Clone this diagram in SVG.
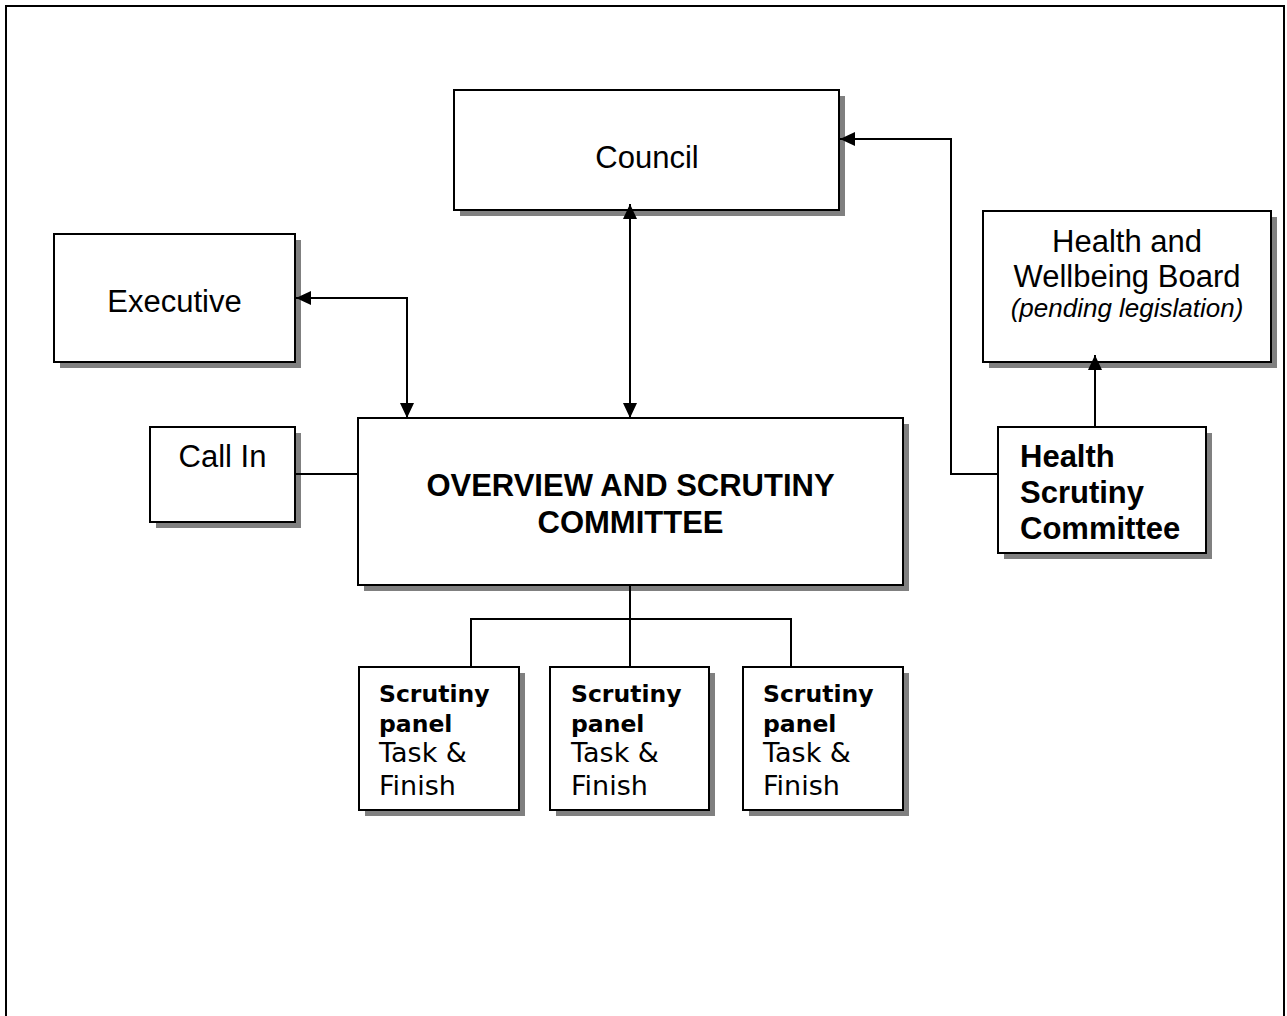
<svg xmlns="http://www.w3.org/2000/svg" width="1287" height="1016" viewBox="0 0 1287 1016">
  <style>
    .box { fill: #ffffff; stroke: #000000; stroke-width: 2; }
    .shadow { fill: #808080; stroke: none; }
    .wire { fill: none; stroke: #000000; stroke-width: 2; }
    .lbl { font-family: "Liberation Sans", Arial, sans-serif; font-size: 31px; fill: #000000; }
    .ctr { text-anchor: middle; }
    .b { font-weight: bold; }
    .it { font-style: italic; font-size: 26px; }
    .pb { font-family: "DejaVu Sans", Verdana, sans-serif; font-size: 23.5px; font-weight: bold; fill: #000000; }
    .pr { font-family: "DejaVu Sans", Verdana, sans-serif; font-size: 27px; fill: #000000; }
  </style>
  <defs>
    <marker id="arrow" viewBox="0 0 15 14" refX="15" refY="7" markerWidth="15" markerHeight="14" markerUnits="userSpaceOnUse" orient="auto-start-reverse">
      <path d="M0,0 L15,7 L0,14 z" fill="#000000"/>
    </marker>
  </defs>

  <rect width="1287" height="1016" fill="#ffffff"/>

  <!-- page frame, open at the bottom -->
  <path d="M6,1016 V6 H1284 V1016" fill="none" stroke="#000000" stroke-width="2"/>

  <g id="council">
    <rect class="shadow" x="460" y="96" width="385" height="120"/>
    <rect class="box" x="454" y="90" width="385" height="120"/>
    <text class="lbl ctr" x="647" y="168">Council</text>
  </g>

  <g id="executive">
    <rect class="shadow" x="60" y="240" width="241" height="128"/>
    <rect class="box" x="54" y="234" width="241" height="128"/>
    <text class="lbl ctr" x="174.5" y="312">Executive</text>
  </g>

  <g id="health-wellbeing-board">
    <rect class="shadow" x="989" y="217" width="288" height="151"/>
    <rect class="box" x="983" y="211" width="288" height="151"/>
    <text class="lbl ctr" x="1127" y="252">Health and</text>
    <text class="lbl ctr" x="1127" y="287">Wellbeing Board</text>
    <text class="lbl ctr it" x="1127" y="317">(pending legislation)</text>
  </g>

  <g id="call-in">
    <rect class="shadow" x="156" y="433" width="145" height="95"/>
    <rect class="box" x="150" y="427" width="145" height="95"/>
    <text class="lbl ctr" x="222.5" y="467">Call In</text>
  </g>

  <g id="overview-scrutiny">
    <rect class="shadow" x="364" y="424" width="545" height="167"/>
    <rect class="box" x="358" y="418" width="545" height="167"/>
    <text class="lbl ctr b" x="630.5" y="496">OVERVIEW AND SCRUTINY</text>
    <text class="lbl ctr b" x="630.5" y="533">COMMITTEE</text>
  </g>

  <g id="health-scrutiny">
    <rect class="shadow" x="1004" y="433" width="208" height="126"/>
    <rect class="box" x="998" y="427" width="208" height="126"/>
    <text class="lbl b" x="1020" y="467">Health</text>
    <text class="lbl b" x="1020" y="503">Scrutiny</text>
    <text class="lbl b" x="1020" y="539">Committee</text>
  </g>

  <g id="panel-1">
    <rect class="shadow" x="365" y="673" width="160" height="143"/>
    <rect class="box" x="359" y="667" width="160" height="143"/>
    <text class="pb" x="379" y="702">Scrutiny</text>
    <text class="pb" x="379" y="732">panel</text>
    <text class="pr" x="379" y="762">Task &amp;</text>
    <text class="pr" x="379" y="795">Finish</text>
  </g>

  <g id="panel-2">
    <rect class="shadow" x="556" y="673" width="159" height="143"/>
    <rect class="box" x="550" y="667" width="159" height="143"/>
    <text class="pb" x="571" y="702">Scrutiny</text>
    <text class="pb" x="571" y="732">panel</text>
    <text class="pr" x="571" y="762">Task &amp;</text>
    <text class="pr" x="571" y="795">Finish</text>
  </g>

  <g id="panel-3">
    <rect class="shadow" x="749" y="673" width="160" height="143"/>
    <rect class="box" x="743" y="667" width="160" height="143"/>
    <text class="pb" x="763" y="702">Scrutiny</text>
    <text class="pb" x="763" y="732">panel</text>
    <text class="pr" x="763" y="762">Task &amp;</text>
    <text class="pr" x="763" y="795">Finish</text>
  </g>

  <!-- connectors, drawn over the boxes so arrowheads stay visible -->
  <g id="connectors">
    <path class="wire" d="M630,204 V418" marker-start="url(#arrow)" marker-end="url(#arrow)"/>
    <path class="wire" d="M296,298 H407 V418" marker-start="url(#arrow)" marker-end="url(#arrow)"/>
    <path class="wire" d="M998,474 H951 V139 H840" marker-end="url(#arrow)"/>
    <path class="wire" d="M1095,427 V355" marker-end="url(#arrow)"/>
    <path class="wire" d="M295,474 H358"/>
    <path class="wire" d="M630,585 V667"/>
    <path class="wire" d="M471,667 V619 H791 V667"/>
  </g>
</svg>
